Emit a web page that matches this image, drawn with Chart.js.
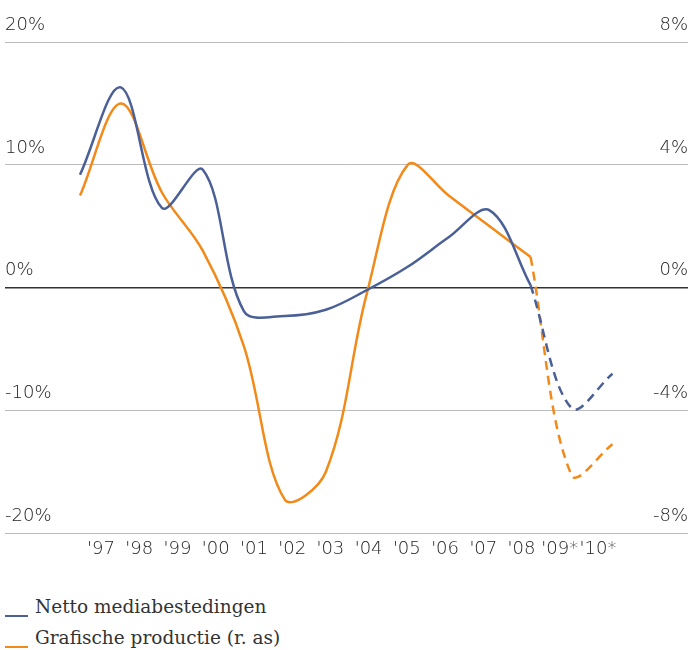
<!DOCTYPE html>
<html>
<head>
<meta charset="utf-8">
<script src="https://cdn.jsdelivr.net/npm/chart.js@4/dist/chart.umd.min.js"></script>
<style>
  body { margin: 0; background: #fff; }
  #wrap { position: relative; width: 690px; height: 650px; }
  #legend { position: absolute; left: 5px; top: 593px; font-family: 'DejaVu Serif', serif; font-size: 18.5px; color: #333; }
  .item { height: 31px; line-height: 28px; white-space: nowrap; }
  .swatch { display: inline-block; width: 23px; height: 2.5px; margin-right: 7px; vertical-align: -4px; }
</style>
</head>
<body>
<div id="wrap">
  <canvas id="chart" width="690" height="575"></canvas>
  <div id="legend"></div>
</div>
<script>
const years = ["'97", "'98", "'99", "'00", "'01", "'02", "'03", "'04", "'05", "'06", "'07", "'08", "'09*", "'10*"];
// Netto mediabestedingen, % (linker as)
const media = [9.2, 16.3, 6.5, 9.6, -1.9, -2.3, -1.8, -0.2, 1.7, 4.1, 6.3, 0.2, -9.8, -7.0];
// Grafische productie, % (rechter as)
const grafisch = [3.0, 6.0, 3.1, 1.2, -1.9, -6.9, -6.0, -0.2, 4.0, 3.0, 2.0, 1.0, -6.1, -5.1];
const leftTicks = [-20, -10, 0, 10, 20];
const rightTicks = [-8, -4, 0, 4, 8];
const lastActual = 11; // '08, daarna prognose (gestippeld)

const blue = '#4a6096';
const orange = '#f28a1a';
const tickFont = { family: 'DejaVu Sans', size: 18, weight: 200 };
const tickColor = '#222';

function part(values, from, to) {
    return values.map((v, i) => ({ x: i, y: (i >= from && i <= to) ? v : null }));
}

const ctx = document.getElementById('chart').getContext('2d');
new Chart(ctx, {
    type: 'line',
    data: {
        datasets: [
            { label: 'Netto mediabestedingen', data: part(media, 0, lastActual), borderColor: blue, yAxisID: 'y' },
            { label: 'Netto mediabestedingen', data: part(media, lastActual, years.length - 1), borderColor: blue, borderDash: [9, 6], yAxisID: 'y' },
            { label: 'Grafische productie (r. as)', data: part(grafisch, 0, lastActual), borderColor: orange, yAxisID: 'y1' },
            { label: 'Grafische productie (r. as)', data: part(grafisch, lastActual, years.length - 1), borderColor: orange, borderDash: [9, 6], yAxisID: 'y1' }
        ]
    },
    options: {
        responsive: false,
        animation: false,
        layout: { padding: { left: 5, right: 2, top: 42, bottom: 10 } },
        elements: {
            point: { radius: 0 },
            line: { borderWidth: 2.5, tension: 0.35, fill: false }
        },
        plugins: { legend: { display: false }, tooltip: { enabled: false } },
        scales: {
            x: { type: 'linear', display: false, min: -1.831, max: 14.843 },
            xl: {
                type: 'linear',
                position: 'bottom',
                min: -2.511,
                max: 15.354,
                grid: { display: false, drawTicks: false },
                border: { display: false },
                afterBuildTicks: function(axis) {
                    axis.ticks = years.map((_, i) => ({ value: i }));
                },
                ticks: {
                    autoSkip: false,
                    maxRotation: 0,
                    padding: 5,
                    color: tickColor,
                    font: tickFont,
                    callback: function(v) { return years[v]; }
                }
            },
            y: {
                position: 'left',
                min: leftTicks[0],
                max: leftTicks[leftTicks.length - 1],
                afterBuildTicks: function(axis) {
                    axis.ticks = leftTicks.map(v => ({ value: v }));
                },
                grid: {
                    drawTicks: false,
                    color: c => c.tick && c.tick.value === 0 ? '#333' : '#bbb',
                    lineWidth: c => c.tick && c.tick.value === 0 ? 1.5 : 1
                },
                border: { display: false },
                ticks: {
                    mirror: true,
                    padding: 0,
                    labelOffset: -17,
                    color: tickColor,
                    font: tickFont,
                    callback: v => v + '%'
                }
            },
            y1: {
                position: 'right',
                min: rightTicks[0],
                max: rightTicks[rightTicks.length - 1],
                afterBuildTicks: function(axis) {
                    axis.ticks = rightTicks.map(v => ({ value: v }));
                },
                grid: { drawOnChartArea: false, drawTicks: false },
                border: { display: false },
                ticks: {
                    mirror: true,
                    padding: 0,
                    labelOffset: -17,
                    color: tickColor,
                    font: tickFont,
                    callback: v => v + '%'
                }
            }
        }
    }
});

// Legenda onder elkaar, zoals in het origineel
const legend = document.getElementById('legend');
[['Netto mediabestedingen', blue], ['Grafische productie (r. as)', orange]].forEach(function(entry) {
    const row = document.createElement('div');
    row.className = 'item';
    row.innerHTML = '<span class="swatch" style="background:' + entry[1] + '"></span>' + entry[0];
    legend.appendChild(row);
});
</script>
</body>
</html>
